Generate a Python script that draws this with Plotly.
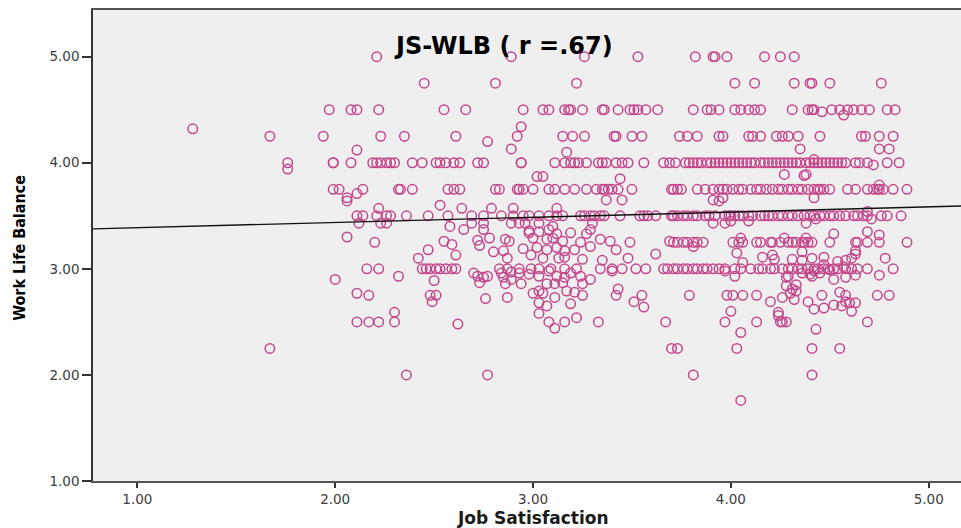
import plotly.graph_objects as go

# Job Satisfaction scores of respondents, grouped by their Work Life Balance score
js_wlb_500 = [2.21, 2.89, 3.26, 3.53, 3.82, 3.91, 3.92, 3.98, 4.17, 4.25, 4.32]
js_wlb_475 = [2.45, 2.81, 3.22, 4.02, 4.12, 4.32, 4.40, 4.41, 4.50, 4.76]
js_wlb_450 = [1.97, 2.08, 2.11, 2.22, 2.55, 2.66, 2.95, 3.05, 3.08, 3.16, 3.18, 3.19,
              3.25, 3.35, 3.36, 3.43, 3.49, 3.51, 3.53, 3.57, 3.63, 3.81, 3.88, 3.90,
              3.94, 4.02, 4.05, 4.09, 4.12, 4.15, 4.31, 4.39, 4.41, 4.42, 4.51, 4.55,
              4.59, 4.62, 4.66, 4.70, 4.79, 4.83]
js_wlb_425 = [1.67, 1.94, 2.23, 2.35, 2.61, 2.92, 3.15, 3.20, 3.26, 3.41, 3.42, 3.50,
              3.55, 3.74, 3.78, 3.83, 3.94, 3.96, 4.09, 4.11, 4.15, 4.23, 4.26, 4.29,
              4.34, 4.45, 4.66, 4.68, 4.75, 4.82]
js_wlb_400 = [1.76, 1.99, 1.99, 2.08, 2.19, 2.21, 2.23, 2.26, 2.28, 2.30, 2.39, 2.44,
              2.51, 2.53, 2.56, 2.60, 2.63, 2.72, 2.75, 2.94, 2.94, 3.11, 3.16, 3.19,
              3.21, 3.23, 3.27, 3.33, 3.35, 3.37, 3.42, 3.45, 3.48, 3.56, 3.66, 3.69,
              3.72, 3.77, 3.79, 3.81, 3.83, 3.85, 3.88, 3.90, 3.92, 3.94, 3.96, 3.98,
              4.00, 4.02, 4.04, 4.06, 4.08, 4.10, 4.12, 4.15, 4.17, 4.19, 4.21, 4.23,
              4.25, 4.27, 4.29, 4.31, 4.33, 4.35, 4.38, 4.40, 4.42, 4.44, 4.46, 4.48,
              4.50, 4.52, 4.54, 4.56, 4.58, 4.63, 4.65, 4.69, 4.79, 4.85]
js_wlb_375 = [1.99, 2.02, 2.14, 2.32, 2.33, 2.39, 2.57, 2.60, 2.63, 2.81, 2.83, 2.92,
              2.93, 2.95, 3.00, 3.08, 3.11, 3.16, 3.21, 3.27, 3.32, 3.35, 3.36, 3.38,
              3.40, 3.43, 3.50, 3.70, 3.71, 3.73, 3.75, 3.83, 3.87, 3.91, 3.94, 3.96,
              3.98, 4.01, 4.04, 4.06, 4.10, 4.13, 4.15, 4.18, 4.21, 4.24, 4.26, 4.29,
              4.31, 4.34, 4.36, 4.39, 4.42, 4.44, 4.45, 4.47, 4.50, 4.59, 4.63, 4.69,
              4.72, 4.74, 4.75, 4.77, 4.82, 4.89]
js_wlb_350 = [2.11, 2.14, 2.21, 2.26, 2.28, 2.36, 2.47, 2.57, 2.69, 2.75, 2.84, 2.90,
              2.95, 2.98, 3.03, 3.08, 3.12, 3.15, 3.24, 3.26, 3.29, 3.31, 3.34, 3.36,
              3.44, 3.54, 3.56, 3.58, 3.62, 3.70, 3.71, 3.73, 3.76, 3.78, 3.81, 3.83,
              3.87, 3.89, 3.92, 3.97, 3.99, 4.00, 4.02, 4.04, 4.06, 4.09, 4.11, 4.15,
              4.17, 4.19, 4.21, 4.24, 4.26, 4.29, 4.31, 4.34, 4.37, 4.40, 4.42, 4.45,
              4.47, 4.50, 4.52, 4.55, 4.58, 4.62, 4.64, 4.67, 4.69, 4.76, 4.79, 4.86]
js_wlb_325 = [2.20, 3.71, 3.73, 3.76, 3.78, 3.81, 3.83, 3.86, 4.01, 4.04, 4.06, 4.13,
              4.15, 4.20, 4.21, 4.25, 4.29, 4.31, 4.33, 4.36, 4.37, 4.39, 4.41, 4.50,
              4.63, 4.64, 4.69, 4.75, 4.89]
js_wlb_300 = [2.16, 2.22, 2.44, 2.46, 2.48, 2.51, 2.53, 2.56, 2.59, 2.61, 2.83, 2.87,
              2.93, 2.99, 3.03, 3.09, 3.16, 3.22, 3.34, 3.40, 3.45, 3.52, 3.57, 3.66,
              3.68, 3.71, 3.73, 3.76, 3.78, 3.81, 3.83, 3.86, 3.88, 3.91, 3.94, 3.97,
              4.02, 4.05, 4.10, 4.14, 4.16, 4.20, 4.22, 4.26, 4.29, 4.31, 4.34, 4.36,
              4.39, 4.42, 4.44, 4.47, 4.49, 4.52, 4.54, 4.58, 4.61, 4.64, 4.69, 4.82]
js_wlb_275 = [2.17, 2.48, 2.51, 3.25, 3.42, 3.55, 3.79, 3.98, 4.01, 4.06, 4.13, 4.46,
              4.58, 4.74, 4.80]
js_wlb_250 = [2.11, 2.17, 2.22, 2.30, 3.08, 3.16, 3.33, 3.67, 3.97, 4.13, 4.25, 4.26,
              4.28, 4.69]
js_wlb_225 = [1.67, 3.70, 3.73, 4.03, 4.41, 4.55]
js_wlb_200 = [2.36, 2.77, 3.81, 4.41]

# Respondents whose Work Life Balance falls between the quarter-point levels
other_points = [
    (1.28, 4.32), (2.94, 4.34), (2.77, 4.20), (2.89, 4.13), (3.17, 4.10), (2.11, 4.12),
    (4.35, 4.13), (4.75, 4.13), (4.80, 4.13), (4.46, 4.48), (4.57, 4.45),
    (1.76, 3.94), (4.42, 4.03), (4.72, 3.98), (4.75, 3.79),
    (3.02, 3.87), (3.05, 3.87), (3.44, 3.85), (3.37, 3.65), (3.45, 3.65), (2.53, 3.60),
    (2.64, 3.57), (2.79, 3.57), (2.90, 3.57), (3.12, 3.57), (2.06, 3.67), (2.06, 3.64),
    (2.11, 3.71), (2.22, 3.57), (4.27, 3.89), (4.37, 3.88), (4.38, 3.89), (3.91, 3.65),
    (3.94, 3.64), (3.96, 3.67), (4.42, 3.67),
    (4.69, 3.54), (4.71, 3.47), (3.91, 3.43), (3.97, 3.43), (4.00, 3.45), (4.09, 3.45),
    (4.38, 3.43), (4.43, 3.47), (2.12, 3.43), (2.23, 3.43), (2.26, 3.43), (2.69, 3.43),
    (2.75, 3.43), (2.89, 3.43), (2.93, 3.43), (2.96, 3.43), (3.03, 3.43), (3.30, 3.43),
    (2.58, 3.40), (2.65, 3.37), (2.75, 3.37), (3.10, 3.40), (2.98, 3.36),
    (2.98, 3.34), (3.03, 3.35), (3.08, 3.37), (3.12, 3.33), (3.19, 3.34), (3.29, 3.37),
    (3.27, 3.33), (4.52, 3.33), (4.69, 3.35), (4.75, 3.32), (4.05, 3.29), (4.27, 3.29),
    (4.38, 3.29), (2.06, 3.30),
    (2.55, 3.26), (2.59, 3.23), (2.72, 3.27), (2.78, 3.29), (2.86, 3.28), (2.88, 3.26),
    (3.00, 3.29), (3.07, 3.28), (3.10, 3.29), (3.15, 3.26), (3.24, 3.25), (3.29, 3.21),
    (3.34, 3.28), (3.39, 3.26), (3.49, 3.25), (3.69, 3.26), (3.81, 3.21),
    (2.47, 3.18), (2.73, 3.22), (2.80, 3.16), (2.85, 3.17), (2.95, 3.19), (3.02, 3.20),
    (3.07, 3.18), (3.12, 3.20), (3.16, 3.17), (3.21, 3.18), (3.42, 3.18),
    (4.03, 3.15), (4.36, 3.16), (4.63, 3.17), (4.63, 3.14),
    (2.42, 3.10), (2.61, 3.13), (2.87, 3.10), (2.99, 3.13), (3.05, 3.10), (3.13, 3.10),
    (3.16, 3.11), (3.25, 3.09), (3.35, 3.08), (3.48, 3.10), (3.62, 3.14),
    (4.16, 3.11), (4.21, 3.13), (4.31, 3.09), (4.36, 3.08), (4.41, 3.10), (4.47, 3.11),
    (4.54, 3.07), (4.58, 3.08), (4.61, 3.10), (4.78, 3.10), (4.06, 3.06), (4.22, 3.09),
    (4.28, 2.92), (4.29, 2.93), (4.36, 2.96), (4.40, 2.95), (4.42, 2.98), (4.45, 2.96),
    (4.50, 2.99), (4.57, 3.02), (4.47, 3.04), (3.97, 2.98), (4.02, 2.93), (4.41, 2.93),
    (4.75, 2.94), (4.52, 2.90), (4.58, 2.92), (4.63, 2.94),
    (2.32, 2.93), (2.50, 2.89), (2.70, 2.96), (2.72, 2.93), (2.75, 2.92), (2.77, 2.93),
    (2.84, 2.96), (2.85, 2.92), (2.89, 2.97), (2.89, 2.90), (2.93, 2.96), (2.98, 2.95),
    (3.03, 2.93), (3.08, 2.98), (3.12, 2.93), (3.16, 2.92), (3.19, 2.96), (3.24, 2.93),
    (3.29, 2.90), (3.40, 2.98), (2.00, 2.90),
    (2.73, 2.87), (2.86, 2.86), (2.94, 2.86), (3.07, 2.86), (3.11, 2.86), (3.15, 2.87),
    (3.25, 2.86), (4.33, 2.85), (4.31, 2.81), (4.28, 2.84), (4.33, 2.79),
    (2.11, 2.77), (3.00, 2.77), (3.03, 2.79), (3.05, 2.77), (3.17, 2.79), (3.21, 2.78),
    (3.43, 2.81), (4.55, 2.78), (4.30, 2.77), (4.26, 2.73),
    (2.49, 2.69), (2.76, 2.72), (2.87, 2.73), (3.03, 2.68), (3.11, 2.73), (3.07, 2.65),
    (3.19, 2.67), (3.51, 2.69), (3.56, 2.64), (4.20, 2.69), (4.32, 2.71), (4.39, 2.69),
    (4.52, 2.66), (4.58, 2.69), (4.60, 2.68), (4.63, 2.68), (4.56, 2.65),
    (2.30, 2.59), (3.03, 2.58), (3.22, 2.54), (4.42, 2.62), (4.47, 2.63), (4.61, 2.60),
    (4.24, 2.59), (4.00, 2.60), (4.24, 2.56),
    (2.62, 2.48), (3.11, 2.44), (4.05, 2.40), (4.43, 2.43), (4.05, 1.76),
]

# Linear fit line (intercept, slope) of Work Life Balance on Job Satisfaction
fit_intercept = 3.339
fit_slope = 0.049

x_range = [0.776, 5.163]
y_range = [1.0, 5.44]
tick_values = [1, 2, 3, 4, 5]
tick_labels = ["1.00", "2.00", "3.00", "4.00", "5.00"]

levels = [
    (5.00, js_wlb_500), (4.75, js_wlb_475), (4.50, js_wlb_450), (4.25, js_wlb_425),
    (4.00, js_wlb_400), (3.75, js_wlb_375), (3.50, js_wlb_350), (3.25, js_wlb_325),
    (3.00, js_wlb_300), (2.75, js_wlb_275), (2.50, js_wlb_250), (2.25, js_wlb_225),
    (2.00, js_wlb_200),
]
js, wlb = [], []
for level, xs in levels:
    js.extend(xs)
    wlb.extend([level] * len(xs))
for x, y in other_points:
    js.append(x)
    wlb.append(y)

point_color = "#c4488c"
axis_font = dict(family="DejaVu Sans, Liberation Sans, sans-serif", size=13.5, color="#3c3c3c")

fig = go.Figure()
fig.add_trace(go.Scatter(
    x=js, y=wlb, mode="markers",
    marker=dict(symbol="circle-open", size=9.5, color=point_color,
                line=dict(width=1.5, color=point_color)),
    showlegend=False, hoverinfo="x+y",
))
fig.add_trace(go.Scatter(
    x=x_range,
    y=[fit_intercept + fit_slope * v for v in x_range],
    mode="lines", line=dict(color="#111111", width=1.4),
    showlegend=False, hoverinfo="skip",
))

fig.update_layout(
    width=961, height=528,
    margin=dict(l=93, r=0, t=10, b=47),
    paper_bgcolor="white",
    plot_bgcolor="#efefef",
    xaxis=dict(
        range=x_range, tickvals=tick_values, ticktext=tick_labels,
        ticks="outside", ticklen=5, tickwidth=2, tickcolor="#333333",
        showline=True, linecolor="#555555", linewidth=1.5, mirror=True,
        showgrid=False, zeroline=False, tickfont=axis_font,
    ),
    yaxis=dict(
        range=y_range, tickvals=tick_values, ticktext=tick_labels,
        ticks="outside", ticklen=9, tickwidth=1.5, tickcolor="#333333",
        showline=True, linecolor="#333333", linewidth=1.5,
        showgrid=False, zeroline=False, tickfont=axis_font,
    ),
    annotations=[
        dict(text="<b>JS-WLB ( r =.67)</b>", x=2.85, y=5.10, xref="x", yref="y",
             showarrow=False, xanchor="center", yanchor="middle",
             font=dict(family="DejaVu Sans, Liberation Sans, sans-serif", size=24, color="#000000")),
        dict(text="<b>Job Satisfaction</b>", x=(533 - 93) / 868, y=(481 - 518) / 471,
             xref="paper", yref="paper", showarrow=False,
             xanchor="center", yanchor="middle",
             font=dict(family="DejaVu Sans, Liberation Sans, sans-serif", size=17, color="#1a1a1a")),
        dict(text="<b>Work Life Balance</b>", x=(20 - 93) / 868, y=0.495,
             xref="paper", yref="paper", showarrow=False, textangle=-90,
             xanchor="center", yanchor="middle",
             font=dict(family="Liberation Sans Narrow, DejaVu Sans Condensed, sans-serif",
                       size=16, color="#000000")),
    ],
)

fig.write_html("out.html")
